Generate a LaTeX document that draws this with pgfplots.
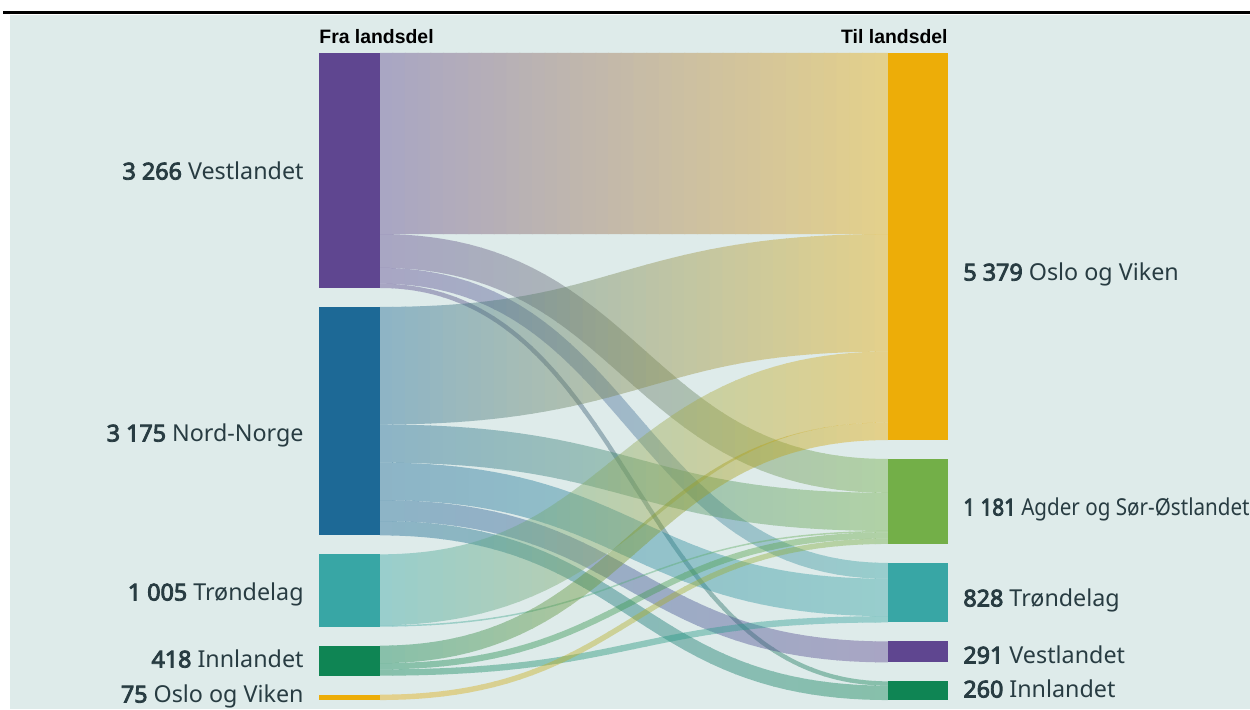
\documentclass[border=0pt]{standalone}
\usepackage{pgfplots}
\pgfplotsset{compat=1.18}
\usepackage{fontspec}
\setmainfont{Noto Sans}[BoldFont={Noto Sans}, BoldFeatures={FakeBold=3.6}]
\newfontfamily\hdrfont{Liberation Sans}
\definecolor{cV}{HTML}{5F4690}
\definecolor{cN}{HTML}{1D6996}
\definecolor{cT}{HTML}{38A6A5}
\definecolor{cI}{HTML}{0F8554}
\definecolor{cA}{HTML}{73AF48}
\definecolor{cO}{HTML}{EDAD08}
\definecolor{bg}{RGB}{222,235,234}
\definecolor{txt}{RGB}{40,60,66}
\newcommand\lbl{\fontsize{11.65pt}{14pt}\selectfont}
\newcommand\hdr{\hdrfont\bfseries\fontsize{9.7pt}{11pt}\selectfont}
% one vertical strip of a link: #1 source centre, #2 target centre, #3 value,
% #4 source colour, #5 target colour, #6/#7 strip x range, #8 share of source colour
\newcommand\strip[8]{%
 \begin{scope}
  \clip ([xshift=-0.3pt]axis cs:#6,-800) rectangle ([xshift=0.3pt]axis cs:#7,9200);
  \draw[line width=#3*0.035975pt, color=#4!#8!#5] (axis cs:380,#1) .. controls (axis cs:634,#1) and (axis cs:634,#2) .. (axis cs:888,#2);
 \end{scope}}
\newcommand\band[5]{%
 \begin{scope}[transparency group, opacity=0.42]
 \strip{#1}{#2}{#3}{#4}{#5}{380}{392.7}{98.75}
 \strip{#1}{#2}{#3}{#4}{#5}{392.7}{405.4}{96.25}
 \strip{#1}{#2}{#3}{#4}{#5}{405.4}{418.1}{93.75}
 \strip{#1}{#2}{#3}{#4}{#5}{418.1}{430.8}{91.25}
 \strip{#1}{#2}{#3}{#4}{#5}{430.8}{443.5}{88.75}
 \strip{#1}{#2}{#3}{#4}{#5}{443.5}{456.2}{86.25}
 \strip{#1}{#2}{#3}{#4}{#5}{456.2}{468.9}{83.75}
 \strip{#1}{#2}{#3}{#4}{#5}{468.9}{481.6}{81.25}
 \strip{#1}{#2}{#3}{#4}{#5}{481.6}{494.3}{78.75}
 \strip{#1}{#2}{#3}{#4}{#5}{494.3}{507}{76.25}
 \strip{#1}{#2}{#3}{#4}{#5}{507}{519.7}{73.75}
 \strip{#1}{#2}{#3}{#4}{#5}{519.7}{532.4}{71.25}
 \strip{#1}{#2}{#3}{#4}{#5}{532.4}{545.1}{68.75}
 \strip{#1}{#2}{#3}{#4}{#5}{545.1}{557.8}{66.25}
 \strip{#1}{#2}{#3}{#4}{#5}{557.8}{570.5}{63.75}
 \strip{#1}{#2}{#3}{#4}{#5}{570.5}{583.2}{61.25}
 \strip{#1}{#2}{#3}{#4}{#5}{583.2}{595.9}{58.75}
 \strip{#1}{#2}{#3}{#4}{#5}{595.9}{608.6}{56.25}
 \strip{#1}{#2}{#3}{#4}{#5}{608.6}{621.3}{53.75}
 \strip{#1}{#2}{#3}{#4}{#5}{621.3}{634}{51.25}
 \strip{#1}{#2}{#3}{#4}{#5}{634}{646.7}{48.75}
 \strip{#1}{#2}{#3}{#4}{#5}{646.7}{659.4}{46.25}
 \strip{#1}{#2}{#3}{#4}{#5}{659.4}{672.1}{43.75}
 \strip{#1}{#2}{#3}{#4}{#5}{672.1}{684.8}{41.25}
 \strip{#1}{#2}{#3}{#4}{#5}{684.8}{697.5}{38.75}
 \strip{#1}{#2}{#3}{#4}{#5}{697.5}{710.2}{36.25}
 \strip{#1}{#2}{#3}{#4}{#5}{710.2}{722.9}{33.75}
 \strip{#1}{#2}{#3}{#4}{#5}{722.9}{735.6}{31.25}
 \strip{#1}{#2}{#3}{#4}{#5}{735.6}{748.3}{28.75}
 \strip{#1}{#2}{#3}{#4}{#5}{748.3}{761}{26.25}
 \strip{#1}{#2}{#3}{#4}{#5}{761}{773.7}{23.75}
 \strip{#1}{#2}{#3}{#4}{#5}{773.7}{786.4}{21.25}
 \strip{#1}{#2}{#3}{#4}{#5}{786.4}{799.1}{18.75}
 \strip{#1}{#2}{#3}{#4}{#5}{799.1}{811.8}{16.25}
 \strip{#1}{#2}{#3}{#4}{#5}{811.8}{824.5}{13.75}
 \strip{#1}{#2}{#3}{#4}{#5}{824.5}{837.2}{11.25}
 \strip{#1}{#2}{#3}{#4}{#5}{837.2}{849.9}{8.75}
 \strip{#1}{#2}{#3}{#4}{#5}{849.9}{862.6}{6.25}
 \strip{#1}{#2}{#3}{#4}{#5}{862.6}{875.3}{3.75}
 \strip{#1}{#2}{#3}{#4}{#5}{875.3}{888}{1.25}
 \end{scope}}
\begin{document}
\begin{tikzpicture}
\begin{axis}[
  scale only axis, width=625pt, height=354.5pt,
  xmin=0, xmax=1250, ymin=-736.6, ymax=9117.4, y dir=reverse,
  hide axis, clip=false]
% background, rule
\fill[white] (axis cs:0,-736.6) rectangle (axis cs:1250,9117.4);
\fill[black] (axis cs:3,-584) rectangle (axis cs:1250,-537);
\fill[bg] (axis cs:10,-528) rectangle (axis cs:1250,9117.4);
% links: source centre, target centre, value (persons)
\band{1258}{1258}{2516}{cV}{cO}
\band{2751}{5877.4}{470}{cV}{cA}
\band{3096}{7196.8}{220}{cV}{cT}
\band{3236}{8762.6}{60}{cV}{cI}
\band{4346.4}{3333}{1634}{cN}{cO}
\band{5428.4}{6377.4}{530}{cN}{cA}
\band{5953.4}{7566.8}{520}{cN}{cT}
\band{6358.9}{8323.7}{291}{cN}{cV}
\band{6604.4}{8892.6}{200}{cN}{cI}
\band{7460.3}{4642.5}{985}{cT}{cO}
\band{7962.8}{6652.4}{20}{cT}{cA}
\band{8358.2}{5257}{244}{cI}{cO}
\band{8523.2}{6705.4}{86}{cI}{cA}
\band{8610.2}{7870.8}{88}{cI}{cT}
\band{8955.1}{6785.9}{75}{cO}{cA}
% source nodes (Fra landsdel): 3266, 3175, 1005, 418, 75
\fill[cV] (axis cs:319,0) rectangle (axis cs:380,3266);
\fill[cN] (axis cs:319,3529.4) rectangle (axis cs:380,6704.4);
\fill[cT] (axis cs:319,6967.8) rectangle (axis cs:380,7972.8);
\fill[cI] (axis cs:319,8236.2) rectangle (axis cs:380,8654.2);
\fill[cO] (axis cs:319,8917.6) rectangle (axis cs:380,8992.6);
% target nodes (Til landsdel): 5379, 1181, 828, 291, 260
\fill[cO] (axis cs:888,0) rectangle (axis cs:948,5379);
\fill[cA] (axis cs:888,5642.4) rectangle (axis cs:948,6823.4);
\fill[cT] (axis cs:888,7086.8) rectangle (axis cs:948,7914.8);
\fill[cV] (axis cs:888,8178.2) rectangle (axis cs:948,8469.2);
\fill[cI] (axis cs:888,8732.6) rectangle (axis cs:948,8992.6);
% headers
\node[anchor=base west, inner sep=0, font=\hdr] at (axis cs:319,-139) {Fra landsdel};
\node[anchor=base east, inner sep=0, font=\hdr] at (axis cs:948,-139) {Til landsdel};
% labels
\node[anchor=base east, inner sep=0, font=\lbl, text=txt] at (axis cs:304,1758.2) {\textbf{3 266} Vestlandet};
\node[anchor=base east, inner sep=0, font=\lbl, text=txt] at (axis cs:304,5399.6) {\textbf{3 175} Nord-Norge};
\node[anchor=base east, inner sep=0, font=\lbl, text=txt] at (axis cs:304,7609.4) {\textbf{1 005} Trøndelag};
\node[anchor=base east, inner sep=0, font=\lbl, text=txt] at (axis cs:304,8540.6) {\textbf{418} Innlandet};
\node[anchor=base east, inner sep=0, font=\lbl, text=txt] at (axis cs:304,9027.1) {\textbf{75} Oslo og Viken};
\node[anchor=base west, inner sep=0, font=\lbl, text=txt] at (axis cs:963,3162) {\textbf{5 379} Oslo og Viken};
\node[anchor=base west, inner sep=0, font=\lbl, text=txt] at (axis cs:963,6428.1) {\scalebox{0.885}[1]{\textbf{1 181} Agder og Sør-Østlandet}};
\node[anchor=base west, inner sep=0, font=\lbl, text=txt] at (axis cs:963,7692.8) {\textbf{828} Trøndelag};
\node[anchor=base west, inner sep=0, font=\lbl, text=txt] at (axis cs:963,8485.1) {\textbf{291} Vestlandet};
\node[anchor=base west, inner sep=0, font=\lbl, text=txt] at (axis cs:963,8957.6) {\textbf{260} Innlandet};
\end{axis}
\pgfresetboundingbox
\path (current axis.south west) rectangle (current axis.north east);
\end{tikzpicture}
\end{document}
